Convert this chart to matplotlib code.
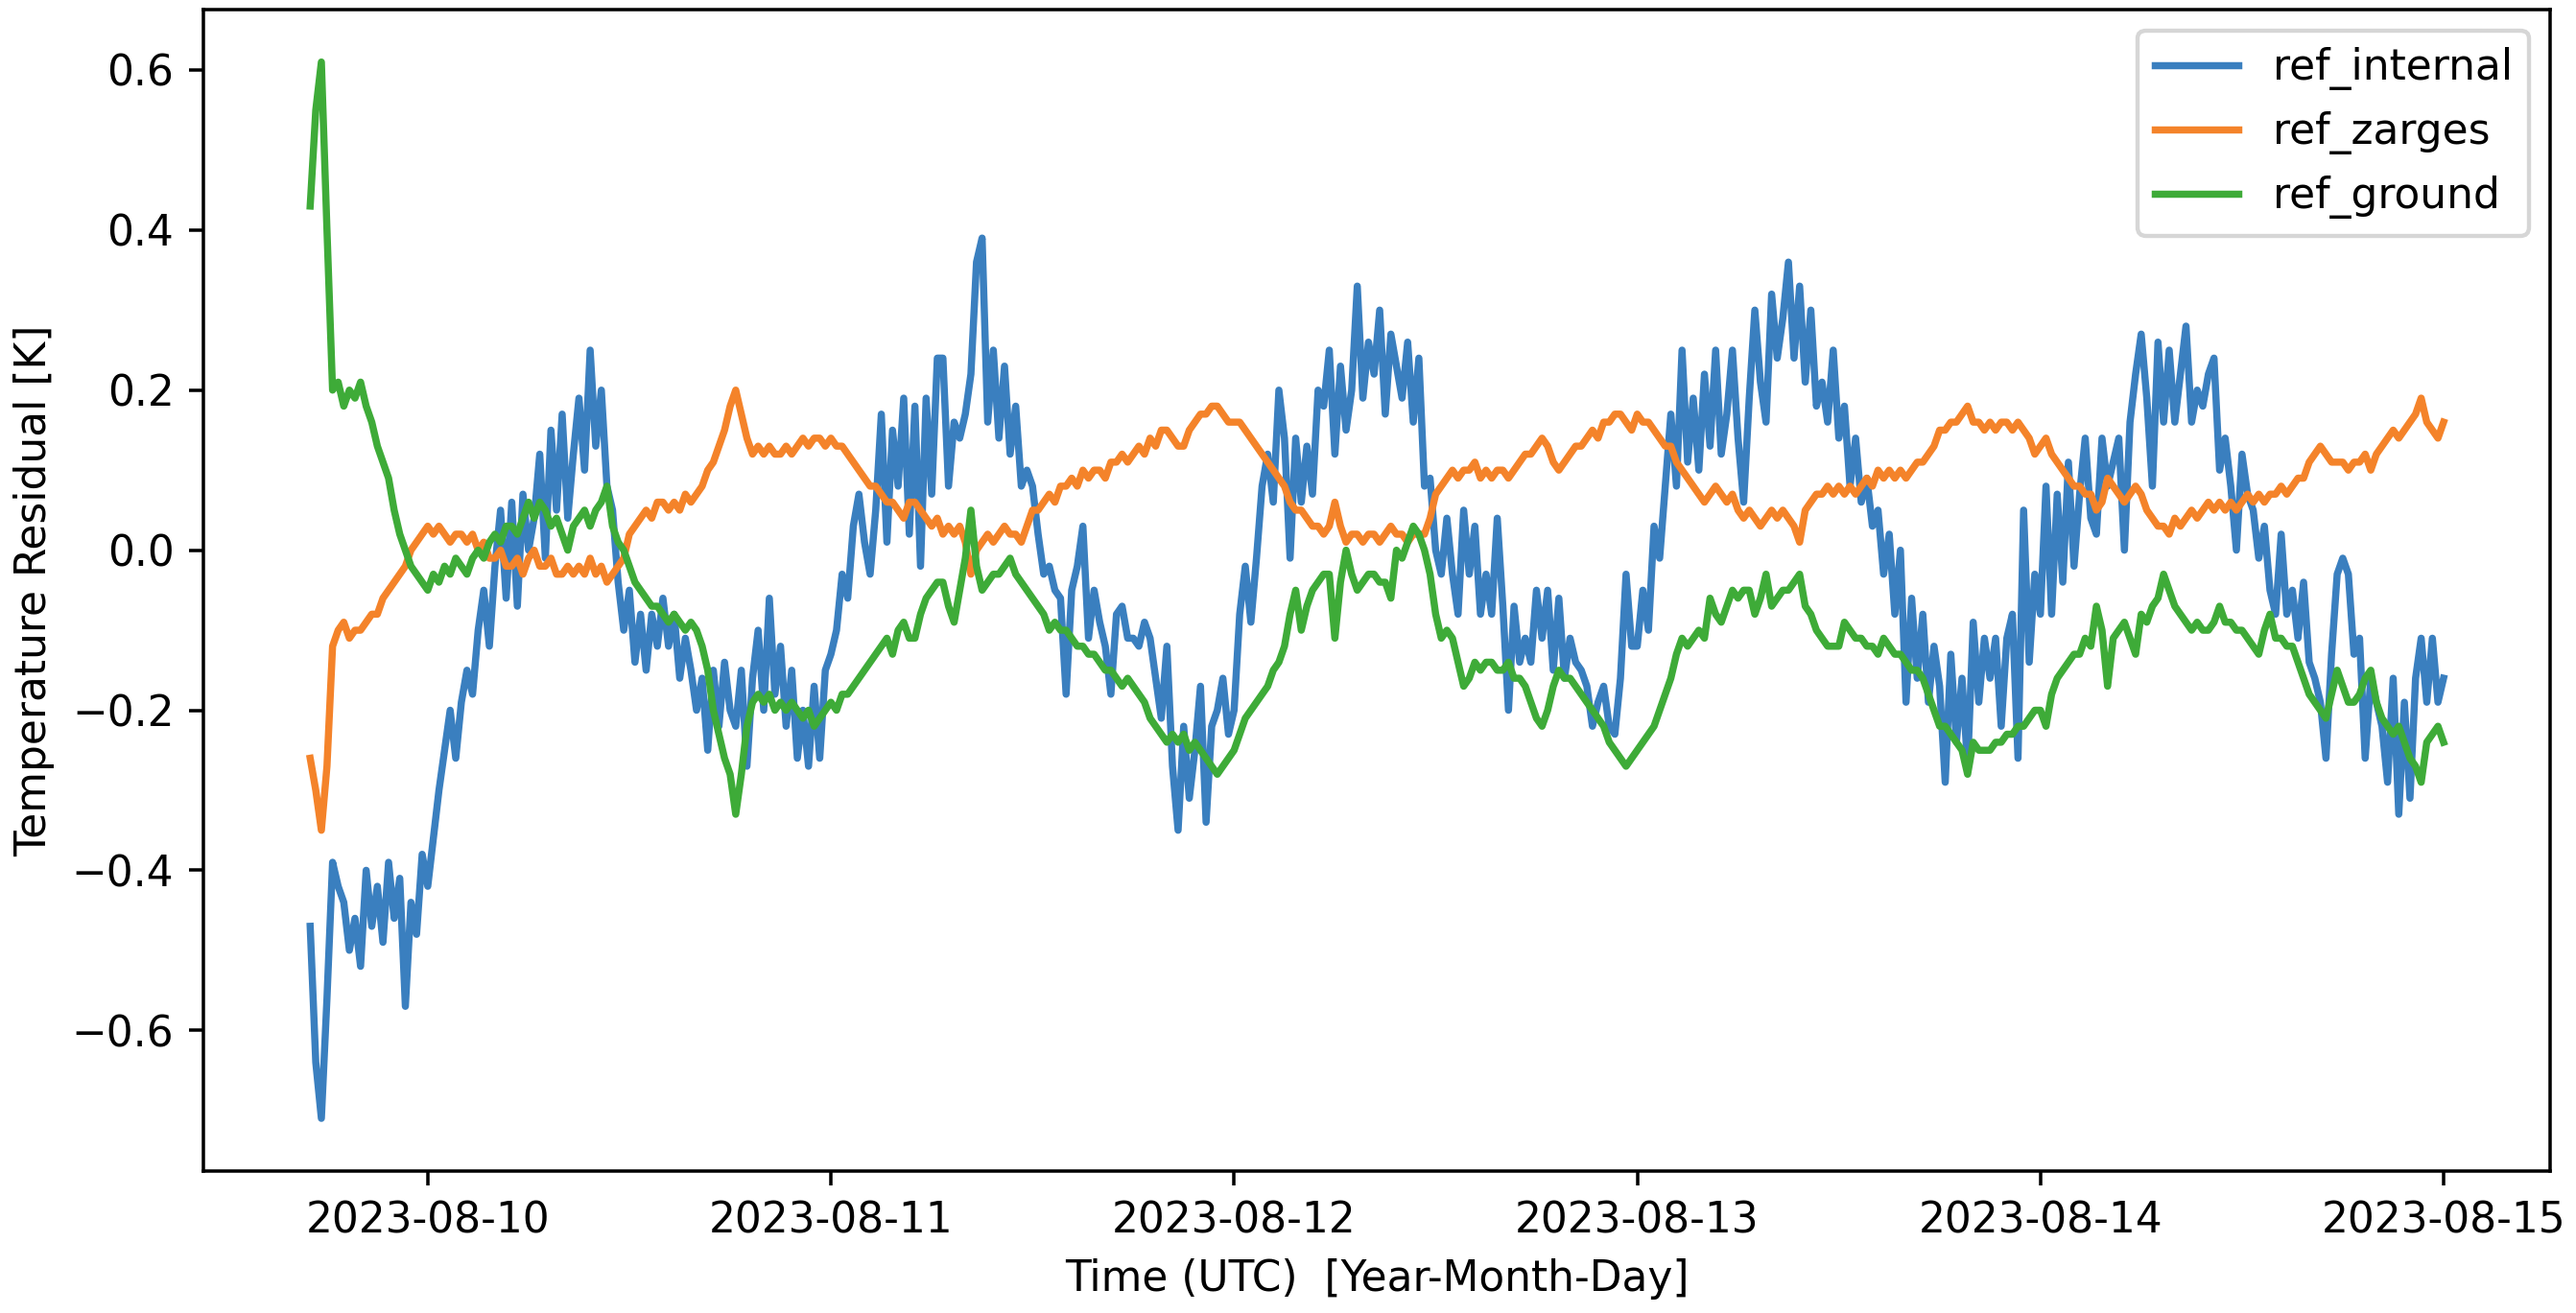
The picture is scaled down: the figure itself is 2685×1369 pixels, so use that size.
import numpy as np
import pandas as pd
import matplotlib
matplotlib.use("Agg")
from matplotlib import pyplot as plt
import matplotlib.dates as mdates

# 20 minute samples, 2023-08-09 17:00 .. 2023-08-15 00:00 (UTC)
START = "2023-08-09 17:00"
END = "2023-08-15 00:00"
STEP = "20min"

labels = ["ref_internal", "ref_zarges", "ref_ground"]
colors = ["#3a7fbf", "#f4832a", "#3eab38"]

ref_internal = [
    # 08-09 17:00 ..
    -0.47, -0.64, -0.71, -0.56, -0.39, -0.42, -0.44, -0.50, -0.46, -0.52, -0.40, -0.47,
    -0.42, -0.49, -0.39, -0.46, -0.41, -0.57, -0.44, -0.48, -0.38,
    # 08-10
    -0.42, -0.36, -0.30, -0.25, -0.20, -0.26, -0.19, -0.15, -0.18, -0.10, -0.05, -0.12,
    -0.02, 0.05, -0.06, 0.06, -0.07, 0.07, 0.00, 0.04, 0.12, -0.01, 0.15, 0.05,
    0.17, 0.04, 0.12, 0.19, 0.10, 0.25, 0.13, 0.20, 0.08, 0.05, -0.04, -0.10,
    -0.05, -0.14, -0.08, -0.15, -0.08, -0.12, -0.06, -0.12, -0.08, -0.16, -0.11, -0.15,
    -0.20, -0.16, -0.25, -0.15, -0.22, -0.14, -0.20, -0.22, -0.15, -0.27, -0.16, -0.10,
    -0.20, -0.06, -0.18, -0.12, -0.22, -0.15, -0.26, -0.20, -0.27, -0.17, -0.26, -0.15,
    # 08-11
    -0.13, -0.10, -0.03, -0.06, 0.03, 0.07, 0.01, -0.03, 0.05, 0.17, 0.01, 0.15,
    0.08, 0.19, 0.02, 0.18, -0.02, 0.19, 0.07, 0.24, 0.24, 0.08, 0.16, 0.14,
    0.17, 0.22, 0.36, 0.39, 0.16, 0.25, 0.14, 0.23, 0.12, 0.18, 0.08, 0.10,
    0.08, 0.02, -0.03, -0.02, -0.05, -0.06, -0.18, -0.05, -0.02, 0.03, -0.11, -0.05,
    -0.09, -0.12, -0.18, -0.08, -0.07, -0.11, -0.11, -0.12, -0.09, -0.11, -0.16, -0.21,
    -0.12, -0.27, -0.35, -0.22, -0.31, -0.25, -0.17, -0.34, -0.22, -0.20, -0.16, -0.23,
    # 08-12
    -0.20, -0.08, -0.02, -0.09, -0.01, 0.08, 0.12, 0.06, 0.20, 0.14, -0.01, 0.14,
    0.06, 0.13, 0.07, 0.20, 0.18, 0.25, 0.12, 0.23, 0.15, 0.20, 0.33, 0.19,
    0.26, 0.22, 0.30, 0.17, 0.27, 0.23, 0.19, 0.26, 0.16, 0.24, 0.08, 0.09,
    0.00, -0.03, 0.04, -0.03, -0.08, 0.05, -0.03, 0.03, -0.08, -0.03, -0.08, 0.04,
    -0.07, -0.20, -0.07, -0.14, -0.11, -0.14, -0.05, -0.11, -0.05, -0.15, -0.06, -0.16,
    -0.11, -0.14, -0.15, -0.17, -0.22, -0.19, -0.17, -0.22, -0.23, -0.16, -0.03, -0.12,
    # 08-13
    -0.12, -0.05, -0.10, 0.03, -0.01, 0.08, 0.17, 0.08, 0.25, 0.11, 0.19, 0.10,
    0.22, 0.13, 0.25, 0.12, 0.17, 0.25, 0.14, 0.06, 0.19, 0.30, 0.21, 0.16,
    0.32, 0.24, 0.29, 0.36, 0.24, 0.33, 0.21, 0.30, 0.18, 0.21, 0.16, 0.25,
    0.14, 0.18, 0.08, 0.14, 0.06, 0.09, 0.03, 0.05, -0.03, 0.02, -0.08, 0.00,
    -0.19, -0.06, -0.16, -0.08, -0.19, -0.12, -0.17, -0.29, -0.13, -0.24, -0.16, -0.27,
    -0.09, -0.19, -0.11, -0.16, -0.11, -0.22, -0.11, -0.08, -0.26, 0.05, -0.14, -0.03,
    # 08-14
    -0.08, 0.08, -0.08, 0.07, -0.04, 0.11, -0.02, 0.07, 0.14, 0.04, 0.02, 0.14,
    0.08, 0.11, 0.14, 0.00, 0.16, 0.22, 0.27, 0.19, 0.08, 0.26, 0.16, 0.25,
    0.16, 0.22, 0.28, 0.16, 0.20, 0.18, 0.22, 0.24, 0.10, 0.14, 0.08, 0.00,
    0.12, 0.07, 0.05, -0.01, 0.03, -0.05, -0.08, 0.02, -0.08, -0.05, -0.11, -0.04,
    -0.14, -0.16, -0.19, -0.26, -0.13, -0.03, -0.01, -0.03, -0.13, -0.11, -0.26, -0.16,
    -0.19, -0.22, -0.29, -0.16, -0.33, -0.19, -0.31, -0.16, -0.11, -0.19, -0.11, -0.19,
    # 08-15 00:00
    -0.16,
]

ref_zarges = [
    -0.26, -0.30, -0.35, -0.27, -0.12, -0.10, -0.09, -0.11, -0.10, -0.10, -0.09, -0.08,
    -0.08, -0.06, -0.05, -0.04, -0.03, -0.02, 0.00, 0.01, 0.02,
    # 08-10
    0.03, 0.02, 0.03, 0.02, 0.01, 0.02, 0.02, 0.01, 0.02, 0.00, 0.01, -0.01,
    -0.01, 0.00, -0.02, -0.02, -0.01, -0.03, -0.01, 0.00, -0.02, -0.02, -0.01, -0.03,
    -0.03, -0.02, -0.03, -0.02, -0.03, -0.01, -0.03, -0.02, -0.04, -0.03, -0.02, -0.01,
    0.02, 0.03, 0.04, 0.05, 0.04, 0.06, 0.06, 0.05, 0.06, 0.05, 0.07, 0.06,
    0.07, 0.08, 0.10, 0.11, 0.13, 0.15, 0.18, 0.20, 0.17, 0.14, 0.12, 0.13,
    0.12, 0.13, 0.12, 0.12, 0.13, 0.12, 0.13, 0.14, 0.13, 0.14, 0.14, 0.13,
    # 08-11
    0.14, 0.13, 0.13, 0.12, 0.11, 0.10, 0.09, 0.08, 0.08, 0.07, 0.06, 0.06,
    0.05, 0.04, 0.06, 0.06, 0.05, 0.04, 0.03, 0.04, 0.02, 0.03, 0.02, 0.03,
    0.01, -0.03, 0.00, 0.01, 0.02, 0.01, 0.02, 0.03, 0.02, 0.02, 0.01, 0.03,
    0.05, 0.05, 0.06, 0.07, 0.06, 0.08, 0.08, 0.09, 0.08, 0.10, 0.09, 0.10,
    0.10, 0.09, 0.11, 0.11, 0.12, 0.11, 0.12, 0.13, 0.12, 0.14, 0.13, 0.15,
    0.15, 0.14, 0.13, 0.13, 0.15, 0.16, 0.17, 0.17, 0.18, 0.18, 0.17, 0.16,
    # 08-12
    0.16, 0.16, 0.15, 0.14, 0.13, 0.12, 0.11, 0.10, 0.09, 0.08, 0.06, 0.05,
    0.05, 0.04, 0.03, 0.03, 0.02, 0.03, 0.06, 0.03, 0.01, 0.02, 0.02, 0.01,
    0.02, 0.02, 0.01, 0.02, 0.03, 0.02, 0.02, 0.01, 0.02, 0.02, 0.02, 0.04,
    0.07, 0.08, 0.09, 0.10, 0.09, 0.10, 0.10, 0.11, 0.09, 0.10, 0.09, 0.10,
    0.10, 0.09, 0.10, 0.11, 0.12, 0.12, 0.13, 0.14, 0.13, 0.11, 0.10, 0.11,
    0.12, 0.13, 0.13, 0.14, 0.15, 0.14, 0.16, 0.16, 0.17, 0.17, 0.16, 0.15,
    # 08-13
    0.17, 0.16, 0.16, 0.15, 0.14, 0.13, 0.13, 0.11, 0.10, 0.09, 0.08, 0.07,
    0.06, 0.07, 0.08, 0.07, 0.06, 0.07, 0.05, 0.04, 0.05, 0.04, 0.03, 0.04,
    0.05, 0.04, 0.05, 0.04, 0.03, 0.01, 0.05, 0.06, 0.07, 0.07, 0.08, 0.07,
    0.08, 0.07, 0.08, 0.07, 0.08, 0.09, 0.08, 0.10, 0.09, 0.10, 0.09, 0.10,
    0.09, 0.10, 0.11, 0.11, 0.12, 0.13, 0.15, 0.15, 0.16, 0.16, 0.17, 0.18,
    0.16, 0.16, 0.15, 0.16, 0.15, 0.16, 0.16, 0.15, 0.16, 0.15, 0.14, 0.12,
    # 08-14
    0.13, 0.14, 0.12, 0.11, 0.10, 0.09, 0.08, 0.08, 0.07, 0.07, 0.05, 0.06,
    0.09, 0.08, 0.07, 0.06, 0.07, 0.08, 0.07, 0.05, 0.04, 0.03, 0.03, 0.02,
    0.04, 0.03, 0.04, 0.05, 0.04, 0.05, 0.06, 0.05, 0.06, 0.05, 0.06, 0.05,
    0.06, 0.07, 0.06, 0.07, 0.06, 0.07, 0.07, 0.08, 0.07, 0.08, 0.09, 0.09,
    0.11, 0.12, 0.13, 0.12, 0.11, 0.11, 0.11, 0.10, 0.11, 0.11, 0.12, 0.10,
    0.12, 0.13, 0.14, 0.15, 0.14, 0.15, 0.16, 0.17, 0.19, 0.16, 0.15, 0.14,
    0.16,
]

ref_ground = [
    0.43, 0.55, 0.61, 0.40, 0.20, 0.21, 0.18, 0.20, 0.19, 0.21, 0.18, 0.16,
    0.13, 0.11, 0.09, 0.05, 0.02, 0.00, -0.02, -0.03, -0.04,
    # 08-10
    -0.05, -0.03, -0.04, -0.02, -0.03, -0.01, -0.02, -0.03, -0.01, 0.00, -0.01, 0.01,
    0.02, 0.01, 0.03, 0.03, 0.02, 0.04, 0.06, 0.04, 0.06, 0.05, 0.03, 0.04,
    0.02, 0.00, 0.03, 0.04, 0.05, 0.03, 0.05, 0.06, 0.08, 0.03, 0.01, 0.00,
    -0.02, -0.04, -0.05, -0.06, -0.07, -0.07, -0.08, -0.09, -0.08, -0.09, -0.10, -0.09,
    -0.10, -0.12, -0.15, -0.20, -0.23, -0.26, -0.28, -0.33, -0.28, -0.22, -0.19, -0.18,
    -0.19, -0.18, -0.20, -0.19, -0.20, -0.19, -0.20, -0.21, -0.20, -0.22, -0.21, -0.20,
    # 08-11
    -0.19, -0.20, -0.18, -0.18, -0.17, -0.16, -0.15, -0.14, -0.13, -0.12, -0.11, -0.13,
    -0.10, -0.09, -0.11, -0.11, -0.08, -0.06, -0.05, -0.04, -0.04, -0.07, -0.09, -0.05,
    -0.01, 0.05, -0.02, -0.05, -0.04, -0.03, -0.03, -0.02, -0.01, -0.03, -0.04, -0.05,
    -0.06, -0.07, -0.08, -0.10, -0.09, -0.10, -0.10, -0.11, -0.12, -0.12, -0.13, -0.13,
    -0.14, -0.15, -0.15, -0.16, -0.17, -0.16, -0.17, -0.18, -0.19, -0.21, -0.22, -0.23,
    -0.24, -0.23, -0.24, -0.23, -0.25, -0.24, -0.25, -0.26, -0.27, -0.28, -0.27, -0.26,
    # 08-12
    -0.25, -0.23, -0.21, -0.20, -0.19, -0.18, -0.17, -0.15, -0.14, -0.12, -0.08, -0.05,
    -0.10, -0.07, -0.05, -0.04, -0.03, -0.03, -0.11, -0.04, 0.00, -0.03, -0.05, -0.04,
    -0.03, -0.03, -0.04, -0.04, -0.06, 0.00, -0.01, 0.01, 0.03, 0.02, 0.00, -0.03,
    -0.08, -0.11, -0.10, -0.11, -0.14, -0.17, -0.16, -0.14, -0.15, -0.14, -0.14, -0.15,
    -0.15, -0.14, -0.16, -0.16, -0.17, -0.19, -0.21, -0.22, -0.20, -0.17, -0.15, -0.16,
    -0.16, -0.17, -0.18, -0.19, -0.20, -0.21, -0.22, -0.24, -0.25, -0.26, -0.27, -0.26,
    # 08-13
    -0.25, -0.24, -0.23, -0.22, -0.20, -0.18, -0.16, -0.13, -0.11, -0.12, -0.11, -0.10,
    -0.11, -0.06, -0.08, -0.09, -0.07, -0.05, -0.06, -0.05, -0.05, -0.08, -0.06, -0.03,
    -0.07, -0.06, -0.05, -0.05, -0.04, -0.03, -0.07, -0.08, -0.10, -0.11, -0.12, -0.12,
    -0.12, -0.09, -0.10, -0.11, -0.11, -0.12, -0.12, -0.13, -0.11, -0.12, -0.13, -0.13,
    -0.14, -0.15, -0.15, -0.16, -0.18, -0.20, -0.22, -0.22, -0.23, -0.24, -0.25, -0.28,
    -0.24, -0.25, -0.25, -0.25, -0.24, -0.24, -0.23, -0.23, -0.22, -0.22, -0.21, -0.20,
    # 08-14
    -0.20, -0.22, -0.18, -0.16, -0.15, -0.14, -0.13, -0.13, -0.11, -0.12, -0.07, -0.10,
    -0.17, -0.11, -0.10, -0.09, -0.11, -0.13, -0.08, -0.09, -0.07, -0.06, -0.03, -0.05,
    -0.07, -0.08, -0.09, -0.10, -0.09, -0.10, -0.10, -0.09, -0.07, -0.09, -0.09, -0.10,
    -0.10, -0.11, -0.12, -0.13, -0.10, -0.08, -0.11, -0.11, -0.12, -0.12, -0.14, -0.16,
    -0.18, -0.19, -0.20, -0.21, -0.18, -0.15, -0.17, -0.19, -0.19, -0.18, -0.16, -0.15,
    -0.19, -0.21, -0.22, -0.23, -0.22, -0.24, -0.26, -0.27, -0.29, -0.24, -0.23, -0.22,
    -0.24,
]

t = pd.date_range(START, END, freq=STEP)
for s in (ref_internal, ref_zarges, ref_ground):
    assert len(s) == len(t), (len(s), len(t))

DPI = 316
fig = plt.figure(figsize=(2685 / DPI, 1369 / DPI), dpi=DPI)
ax = fig.add_axes([0.079, 0.108, 0.911, 0.885])

for lab, col, y in zip(labels, colors, (ref_internal, ref_zarges, ref_ground)):
    ax.plot(t, y, label=lab, color=col, lw=1.7)

ax.xaxis.set_major_locator(mdates.DayLocator())
ax.xaxis.set_major_formatter(mdates.DateFormatter("%Y-%m-%d"))
ax.set_xlabel("Time (UTC)  [Year-Month-Day]")
ax.set_ylabel("Temperature Residual [K]")
ax.legend(loc="upper right")

fig.savefig("out.png", dpi=DPI)
